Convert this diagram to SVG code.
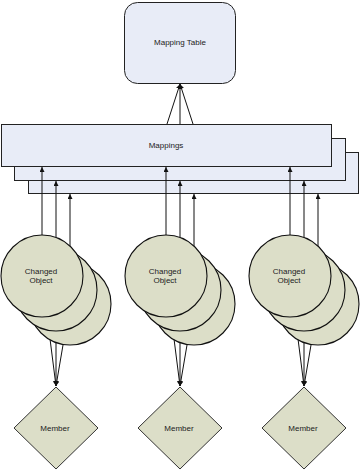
<svg xmlns="http://www.w3.org/2000/svg" width="360" height="470" viewBox="0 0 360 470">
<style>
text{font-family:"Liberation Sans",Arial,sans-serif;font-size:8px;fill:#222;text-anchor:middle}
.box{fill:#e8ecf7;stroke:#222;stroke-width:1}
.obj{fill:#dcdec8;stroke:#111;stroke-width:1.1}
.mem{fill:#dcdec8;stroke:#333;stroke-width:1}
.c{stroke:#111;stroke-width:1;fill:none;marker-end:url(#ah)}
</style>
<defs>
<marker id="ah" viewBox="0 0 6 6" refX="6" refY="3" markerWidth="5" markerHeight="5" orient="auto" markerUnits="userSpaceOnUse">
<path d="M0,0 L6,3 L0,6 Z" fill="#111"/>
</marker>
</defs>
<rect width="360" height="470" fill="#fff"/>
<g id="mappingTable"><rect class="box" x="124.5" y="2.5" width="111" height="81" rx="13"/><text x="180" y="45">Mapping Table</text></g>
<g id="mappings3"><rect class="box" x="28.5" y="152.5" width="330" height="41"/></g>
<g id="mappings2"><rect class="box" x="14.5" y="138.5" width="331" height="42"/></g>
<g id="mappings"><rect class="box" x="1.5" y="124.5" width="330" height="42"/><text x="166" y="148">Mappings</text></g>
<g id="connectors">
<path class="c" d="M167,124 L180,84"/>
<path class="c" d="M180,124 L180,84"/>
<path class="c" d="M193,124 L180,84"/>
<path class="c" d="M42,276 L42,167"/><path class="c" d="M56,290 L56,181"/><path class="c" d="M70,304 L70,194"/>
<path class="c" d="M166,276 L166,167"/><path class="c" d="M180,290 L180,181"/><path class="c" d="M194,304 L194,194"/>
<path class="c" d="M290,276 L290,167"/><path class="c" d="M304,290 L304,181"/><path class="c" d="M318,304 L318,194"/>
<path class="c" d="M42,276 L56,386"/><path class="c" d="M56,290 L56,386"/><path class="c" d="M70,304 L56,386"/>
<path class="c" d="M166,276 L180,386"/><path class="c" d="M180,290 L180,386"/><path class="c" d="M194,304 L180,386"/>
<path class="c" d="M290,276 L304,386"/><path class="c" d="M304,290 L304,386"/><path class="c" d="M318,304 L304,386"/>
</g>
<g id="obj1c"><circle class="obj" cx="70" cy="304" r="41"/></g>
<g id="obj1b"><circle class="obj" cx="56" cy="290" r="41"/></g>
<g id="obj1"><circle class="obj" cx="42" cy="276" r="41"/><text x="41" y="274">Changed</text><text x="41" y="283">Object</text></g>
<g id="obj2c"><circle class="obj" cx="194" cy="304" r="41"/></g>
<g id="obj2b"><circle class="obj" cx="180" cy="290" r="41"/></g>
<g id="obj2"><circle class="obj" cx="166" cy="276" r="41"/><text x="165" y="274">Changed</text><text x="165" y="283">Object</text></g>
<g id="obj3c"><circle class="obj" cx="318" cy="304" r="41"/></g>
<g id="obj3b"><circle class="obj" cx="304" cy="290" r="41"/></g>
<g id="obj3"><circle class="obj" cx="290" cy="276" r="41"/><text x="289" y="274">Changed</text><text x="289" y="283">Object</text></g>
<g id="member1"><path class="mem" d="M56,387 L98,428 L56,469 L14,428 Z"/><text x="55" y="431">Member</text></g>
<g id="member2"><path class="mem" d="M180,387 L222,428 L180,469 L138,428 Z"/><text x="179" y="431">Member</text></g>
<g id="member3"><path class="mem" d="M304,387 L346,428 L304,469 L262,428 Z"/><text x="303" y="431">Member</text></g>
</svg>
